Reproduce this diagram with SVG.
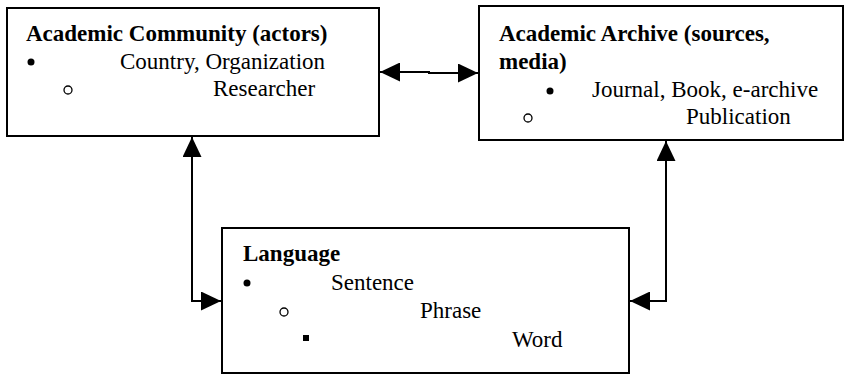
<svg xmlns="http://www.w3.org/2000/svg" width="846" height="374" viewBox="0 0 846 374">
<style>
text{font-family:'Liberation Serif','Times New Roman',serif;font-size:23px;fill:#000}
.box{fill:#fff;stroke:#000;stroke-width:2}
.b{font-weight:bold}
.dot{fill:#000}
.ring{fill:none;stroke:#000;stroke-width:1.3}
.conn{fill:none;stroke:#000;stroke-width:2;marker-start:url(#ah);marker-end:url(#ah)}
</style>
<defs>
<marker id="ah" markerUnits="userSpaceOnUse" markerWidth="20" markerHeight="19" refX="20" refY="9.5" orient="auto-start-reverse">
<path d="M0,0 L20,9.5 L0,19 Z" fill="#000"/>
</marker>
</defs>
<rect width="846" height="374" fill="#fff"/>
<g id="community">
<rect class="box" x="7" y="8" width="372" height="128"/>
<text class="b" x="26" y="41">Academic Community (actors)</text>
<circle class="dot" cx="31" cy="62" r="3.5"/>
<text x="120" y="69">Country, Organization</text>
<circle class="ring" cx="68" cy="90" r="4"/>
<text x="213" y="96">Researcher</text>
</g>
<g id="archive">
<rect class="box" x="479" y="6" width="364" height="134"/>
<text class="b" x="499" y="41">Academic Archive (sources,</text>
<text class="b" x="499" y="69">media)</text>
<circle class="dot" cx="550" cy="91" r="3.5"/>
<text x="592" y="97">Journal, Book, e-archive</text>
<circle class="ring" cx="528" cy="118" r="4"/>
<text x="686" y="124">Publication</text>
</g>
<g id="language">
<rect class="box" x="222" y="228" width="407" height="145"/>
<text class="b" x="243" y="261">Language</text>
<circle class="dot" cx="247" cy="283" r="3.5"/>
<text x="331" y="290">Sentence</text>
<circle class="ring" cx="284" cy="312" r="4"/>
<text x="420" y="318">Phrase</text>
<rect class="dot" x="303" y="335" width="6" height="6"/>
<text x="512" y="347">Word</text>
</g>
<g id="connectors">
<path class="conn" d="M380,72 H429 V73 H478"/>
<path class="conn" d="M192,137 V301 H221"/>
<path class="conn" d="M666,141 V301 H630"/>
</g>
</svg>
